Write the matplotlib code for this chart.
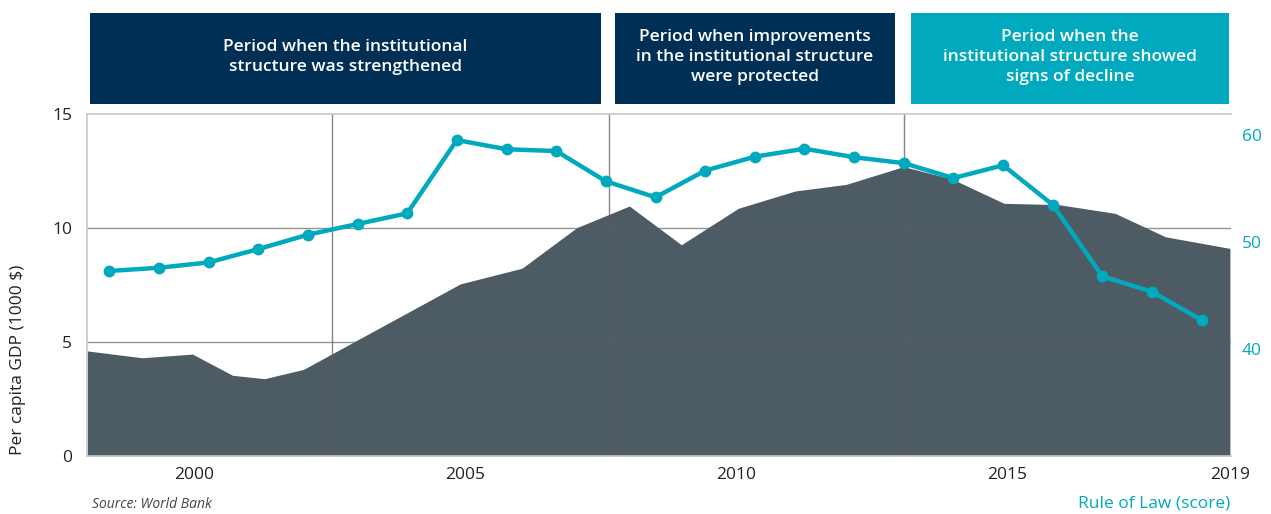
import matplotlib
matplotlib.use("Agg")
import matplotlib.pyplot as plt
from matplotlib.patches import Rectangle

plt.rcParams['font.family'] = ['Open Sans', 'DejaVu Sans']

# ---- data ----
gdp_years = [1998.03, 1999.04, 1999.97, 2000.71, 2001.30, 2002.02, 2004.91, 2006.05,
             2007.06, 2008.03, 2008.99, 2010.04, 2011.09, 2012.03, 2013.09, 2013.98,
             2014.94, 2015.95, 2016.99, 2017.92, 2019.11]
gdp_values = [4.60, 4.30, 4.46, 3.53, 3.38, 3.79, 7.54, 8.23,
              10.01, 10.96, 9.26, 10.86, 11.62, 11.91, 12.69, 12.15,
              11.08, 11.02, 10.64, 9.61, 9.10]
rule_of_law = [47.3, 47.6, 48.1, 49.35, 50.7, 51.7, 52.7, 59.56, 58.7, 58.53, 55.7, 54.2,
               56.7, 58.0, 58.75, 57.95, 57.4, 56.0, 57.2, 53.5, 46.8, 45.35, 42.7]
period_bounds = [2002.55, 2007.66, 2013.09]
x_ticks = [2000, 2005, 2010, 2015, 2019.11]
x_tick_labels = ["2000", "2005", "2010", "2015", "2019"]
left_ticks = [0, 5, 10, 15]
right_ticks = [40, 50, 60]
period_labels = ["Period when the institutional\nstructure was strengthened",
                 "Period when improvements\nin the institutional structure\nwere protected",
                 "Period when the\ninstitutional structure showed\nsigns of decline"]

NAVY = "#002F56"
TEAL = "#00A9BD"
AREA = "#4C5B64"
TXT = "#222222"

W, H = 1271, 514
fig = plt.figure(figsize=(W / 100, H / 100), dpi=100)

def fx(px):
    return px / W

def fy(py):
    return 1 - py / H

left, right, top, bottom = 87.3, 1231, 114, 455.7
rect = [fx(left), fy(bottom), fx(right) - fx(left), fy(top) - fy(bottom)]

ax = fig.add_axes(rect)
ax.fill_between(gdp_years, gdp_values, 0, color=AREA, lw=0, zorder=1)
ax.set_xlim(1998.03, 2019.13)
ax.set_ylim(0, 15)
ax.set_yticks(left_ticks)
ax.set_xticks(x_ticks)
ax.set_xticklabels(x_tick_labels)
ax.tick_params(axis='both', length=0, labelsize=12.5, colors=TXT)
ax.tick_params(axis='y', pad=11)
ax.tick_params(axis='x', pad=8)
for yv in [5, 10]:
    ax.axhline(yv, color="#5d5d5d", alpha=0.65, lw=1.0, zorder=2)
for xv in period_bounds:
    ax.axvline(xv, color="#5d5d5d", alpha=0.75, lw=1.0, zorder=2)
for s in ['left', 'bottom', 'top']:
    ax.spines[s].set_color("#c8c8c8")
    ax.spines[s].set_linewidth(1.2)
ax.spines['right'].set_visible(False)

ax2 = fig.add_axes(rect, frameon=False)
ax2.plot(range(len(rule_of_law)), rule_of_law, color=TEAL, lw=3.2, marker='o',
         markersize=7.5, zorder=5, solid_joinstyle='round')
ax2.set_xlim(-0.443, 22.59)
ax2.set_ylim(30, 62)
ax2.set_xticks([])
ax2.yaxis.tick_right()
ax2.set_yticks(right_ticks)
ax2.tick_params(axis='y', length=0, labelsize=12.5, colors=TEAL, pad=8)
ax2.spines['right'].set_visible(True)
ax2.spines['right'].set_color(TEAL)
ax2.spines['right'].set_linewidth(2.2)

# period boxes
boxes = [(90, 601, NAVY), (615, 895, NAVY), (911, 1229, TEAL)]
for (x0, x1, c), lab in zip(boxes, period_labels):
    fig.patches.append(Rectangle((fx(x0), fy(104)), fx(x1) - fx(x0), fy(12.5) - fy(104),
                                 transform=fig.transFigure, color=c, lw=0))
    fig.text(fx((x0 + x1) / 2), fy(57), lab, color="white", ha='center', va='center',
             fontsize=12.5, linespacing=1.3, fontweight='semibold')

fig.text(fx(18), fy(360), "Per capita GDP (1000 $)", rotation=90, ha='center',
         va='center', fontsize=12.5, color=TXT)
fig.text(fx(1230), fy(503), "Rule of Law (score)", ha='right', va='center',
         fontsize=12.5, color=TEAL)
fig.text(fx(92), fy(505), "Source: World Bank", ha='left', va='center',
         fontsize=10, color="#444444", style='italic')

fig.savefig("out.png", dpi=100)
